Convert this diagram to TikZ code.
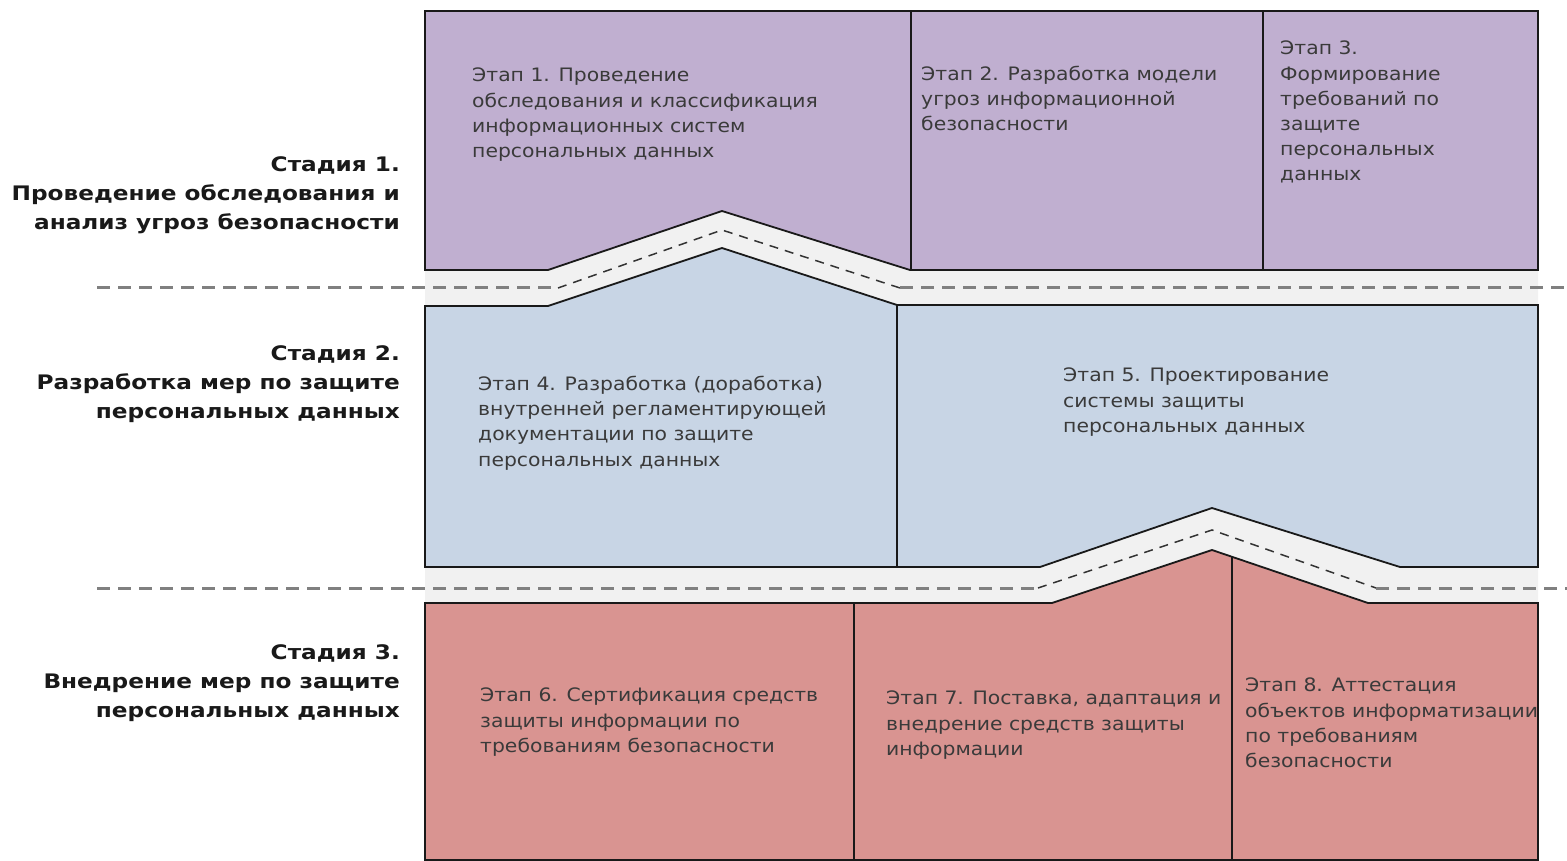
\documentclass[tikz,border=0pt]{standalone}
\usepackage{fontspec}
\setmainfont{DejaVu Sans}
\newfontfamily\etapfont[FakeStretch=1.10]{DejaVu Sans}
\newfontfamily\stadiafont[FakeStretch=1.16]{DejaVu Sans}
\definecolor{cpurple}{HTML}{C0AFD0}
\definecolor{cblue}{HTML}{C8D5E5}
\definecolor{cred}{HTML}{D99491}
\definecolor{cband}{HTML}{F1F1F1}
\definecolor{cdash}{HTML}{808080}
\definecolor{ctext}{HTML}{3A3A3A}
\tikzset{
  etap/.style={anchor=north west, inner sep=0pt, align=left, text=ctext,
    font=\etapfont\fontsize{18.5}{25.2}\selectfont, execute at begin node={\rule{0pt}{16pt}}},
  stadia/.style={anchor=north east, inner sep=0pt, align=right, text=black!90,
    font=\stadiafont\fontsize{20}{29}\selectfont\bfseries, execute at begin node={\rule{0pt}{17pt}}},
  border/.style={line width=1.8pt, draw=black!90, line join=miter},
  divider/.style={line width=1.8pt, draw=black!90},
  graydash/.style={draw=cdash, line width=3pt, dash pattern=on 13pt off 8pt},
  thindash/.style={draw=black!80, line width=1.5pt, dash pattern=on 9pt off 7pt},
}
\begin{document}
\begin{tikzpicture}[x=1pt,y=-1pt]
\useasboundingbox (0,0) rectangle (1567,861);
\fill[white] (0,0) rectangle (1567,861);
% gray bands
\fill[cband] (425,270) -- (548,270) -- (722,211) -- (910,270) -- (1538,270) -- (1538,305) -- (897,305) -- (722,248) -- (548,306) -- (425,306) -- cycle;
\fill[cband] (425,567) -- (1040,567) -- (1212,508) -- (1400,567) -- (1538,567) -- (1538,603) -- (1368,603) -- (1212,550) -- (1052,603) -- (425,603) -- cycle;
% dashed separators
\draw[graydash] (97,288) -- (558,288);
\draw[thindash] (558,288) -- (722,230) -- (900,288);
\draw[graydash] (900,288) -- (1567,288);
\draw[graydash] (97,588) -- (1038,588);
\draw[thindash] (1038,588) -- (1212,530) -- (1376,588);
\draw[graydash] (1376,588) -- (1567,588);
% stage 1 (purple)
\path[fill=cpurple, border] (425,11) -- (1538,11) -- (1538,270) -- (910,270) -- (722,211) -- (548,270) -- (425,270) -- cycle;
\draw[divider] (911,11) -- (911,270);
\draw[divider] (1263,11) -- (1263,270);
% stage 2 (blue)
\path[fill=cblue, border] (425,306) -- (548,306) -- (722,248) -- (897,305) -- (1538,305) -- (1538,567) -- (1400,567) -- (1212,508) -- (1040,567) -- (425,567) -- cycle;
\draw[divider] (897,305) -- (897,567);
% stage 3 (red)
\path[fill=cred, border] (425,860) -- (425,603) -- (1052,603) -- (1212,550) -- (1368,603) -- (1538,603) -- (1538,860) -- cycle;
\draw[divider] (854,603) -- (854,860);
\draw[divider] (1232,556.7) -- (1232,860);
% stage labels
\node[stadia] (s1) at (400,156) {Стадия 1.\\Проведение обследования и\\анализ угроз безопасности};
\node[stadia] (s2) at (400,345) {Стадия 2.\\Разработка мер по защите\\персональных данных};
\node[stadia] (s3) at (400,644) {Стадия 3.\\Внедрение мер по защите\\персональных данных};
% step texts
\node[etap] (e1) at (472,68) {Этап 1. Проведение\\обследования и классификация\\информационных систем\\персональных данных};
\node[etap] (e2) at (921,66) {Этап 2. Разработка модели\\угроз информационной\\безопасности};
\node[etap] (e3) at (1280,41) {Этап 3.\\Формирование\\требований по\\защите\\персональных\\данных};
\node[etap] (e4) at (478,376) {Этап 4. Разработка (доработка)\\внутренней регламентирующей\\документации по защите\\персональных данных};
\node[etap] (e5) at (1063,368) {Этап 5. Проектирование\\системы защиты\\персональных данных};
\node[etap] (e6) at (480,688) {Этап 6. Сертификация средств\\защиты информации по\\требованиям безопасности};
\node[etap] (e7) at (886,691) {Этап 7. Поставка, адаптация и\\внедрение средств защиты\\информации};
\node[etap] (e8) at (1245,678) {Этап 8. Аттестация\\объектов информатизации\\по требованиям\\безопасности};
\end{tikzpicture}
\end{document}
